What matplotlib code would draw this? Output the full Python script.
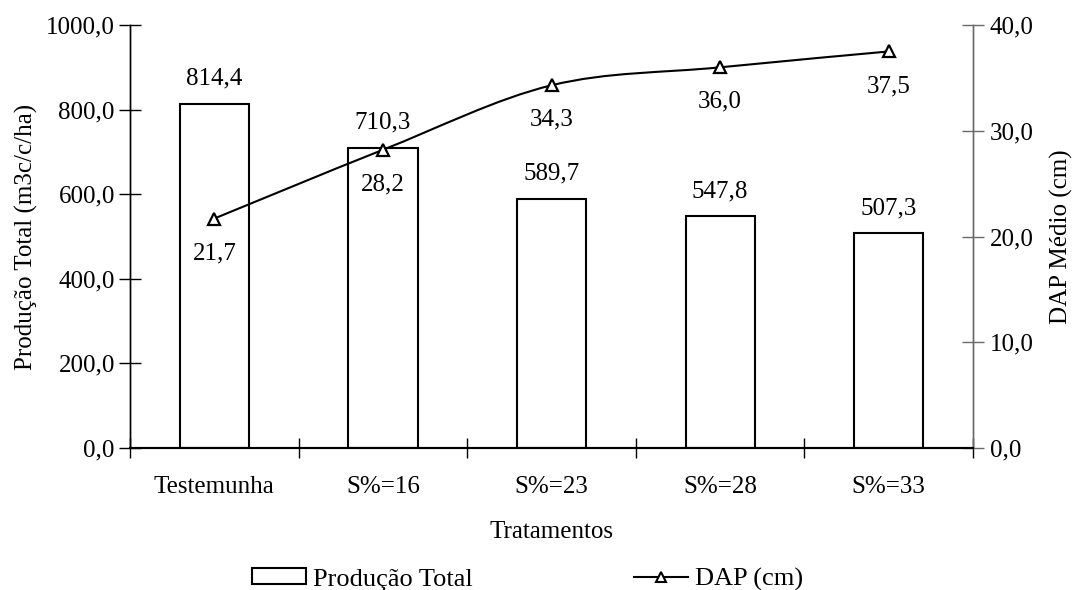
import numpy as np
from matplotlib import pyplot as plt
from matplotlib.path import Path
from matplotlib.patches import PathPatch
from matplotlib.lines import Line2D
from matplotlib.patches import Rectangle
from matplotlib.ticker import FuncFormatter

plt.rcParams["font.family"] = ["Liberation Serif", "DejaVu Serif"]

tratamentos = ["Testemunha", "S%=16", "S%=23", "S%=28", "S%=33"]
producao_total = [814.4, 710.3, 589.7, 547.8, 507.3]
dap_medio = [21.7, 28.2, 34.3, 36.0, 37.5]


def virgula(fmt):
    return FuncFormatter(lambda v, pos: fmt.format(v).replace(".", ","))


def smooth_path(xs, ys):
    # excel-like smoothed line (catmull-rom as cubic bezier)
    pts = np.column_stack([xs, ys]).astype(float)
    n = len(pts)
    verts = [pts[0]]
    codes = [Path.MOVETO]
    for i in range(n - 1):
        p_prev = pts[max(i - 1, 0)]
        p_next2 = pts[min(i + 2, n - 1)]
        c1 = pts[i] + (pts[i + 1] - p_prev) / 6.0
        c2 = pts[i + 1] - (p_next2 - pts[i]) / 6.0
        verts += [c1, c2, pts[i + 1]]
        codes += [Path.CURVE4] * 3
    return Path(verts, codes)


fs = 18
grey = "#6a6a6a"
fig = plt.figure(figsize=(10.72, 5.90), dpi=100)
ax = fig.add_axes([0.1213, 0.2407, 0.7864, 0.7169])
ax2 = ax.twinx()

x = np.arange(len(tratamentos))
ax.bar(x, producao_total, width=0.41, facecolor="white", edgecolor="black", linewidth=1.5)
for xi, v in zip(x, producao_total):
    ax.annotate("{:.1f}".format(v).replace(".", ","), (xi, v), xytext=(0, 10),
                textcoords="offset points", ha="center", va="bottom", fontsize=fs)

ax.set_xlim(-0.5, len(tratamentos) - 0.5)
ax.set_ylim(0, 1000)
ax.set_yticks(np.arange(0, 1001, 200))
ax.yaxis.set_major_formatter(virgula("{:.1f}"))
ax.set_xticks(x)
ax.set_xticklabels(tratamentos, fontsize=fs)
ax.set_xticks(np.arange(-0.5, len(tratamentos), 1), minor=True)
ax.tick_params(axis="x", which="major", length=0, pad=20)
ax.tick_params(axis="x", which="minor", direction="inout", length=14, width=1)
ax.tick_params(axis="y", direction="inout", length=16, width=1, labelsize=fs, pad=3)
ax.set_xlabel("Tratamentos", fontsize=fs, labelpad=17)
ax.set_ylabel("Produção Total (m3c/c/ha)", fontsize=fs, labelpad=6)

ax2.add_patch(PathPatch(smooth_path(x, dap_medio), facecolor="none", edgecolor="black",
                        linewidth=1.5))
ax2.plot(x, dap_medio, linestyle="none", marker="^", markersize=8,
         markerfacecolor="white", markeredgecolor="black", markeredgewidth=1.6)
for xi, v in zip(x, dap_medio):
    ax2.annotate("{:.1f}".format(v).replace(".", ","), (xi, v), xytext=(0, -17),
                 textcoords="offset points", ha="center", va="top", fontsize=fs)
ax2.set_ylim(0, 40)
ax2.set_yticks(np.arange(0, 41, 10))
ax2.yaxis.set_major_formatter(virgula("{:.1f}"))
ax2.tick_params(axis="y", direction="inout", length=16, width=1, labelsize=fs, pad=4,
                color=grey)
ax2.set_ylabel("DAP Médio (cm)", fontsize=fs, labelpad=12)

for a in (ax, ax2):
    a.spines["top"].set_visible(False)
    a.spines["left"].set_linewidth(1)
    a.spines["right"].set_linewidth(1)
    a.spines["right"].set_color(grey)
    a.spines["bottom"].set_linewidth(1.5)

handles = [
    Rectangle((0, 0), 1, 1, facecolor="white", edgecolor="black", linewidth=1.5),
    Line2D([], [], color="black", linewidth=1.5, marker="^", markersize=7,
           markerfacecolor="white", markeredgecolor="black", markeredgewidth=1.5),
]
fig.legend(handles, ["Produção Total", "DAP (cm)"], loc="center",
           bbox_to_anchor=(0.492, 0.018), ncol=2, frameon=False, fontsize=19,
           handlelength=2.05, handleheight=0.55, handletextpad=0.28, columnspacing=6.1)

fig.savefig("out.png", dpi=100)
